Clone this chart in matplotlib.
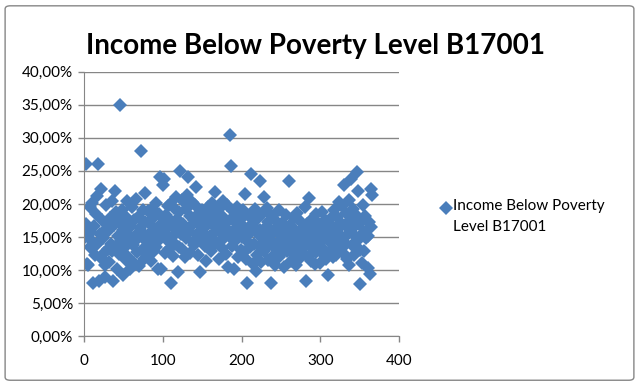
import numpy as np
import matplotlib
matplotlib.use("Agg")
import matplotlib.pyplot as plt
from matplotlib.ticker import FuncFormatter, MultipleLocator
from matplotlib.patches import FancyBboxPatch
from matplotlib.lines import Line2D

title = "Income Below Poverty Level B17001"
series_name = "Income Below Poverty\nLevel B17001"

# share of households below poverty level (%), one per row index
poverty_pct = [
    15.0, 26.0, 17.0, 10.9, 10.7, 16.2, 19.5, 13.5, 15.8, 20.1,
    14.2, 8.0, 16.6, 12.3, 18.4, 21.2, 13.9, 26.1, 8.3, 15.4,
    11.8, 22.3, 17.6, 14.8, 12.6, 10.7, 9.0, 19.8, 16.3, 13.1,
    15.9, 11.2, 17.9, 14.0, 12.8, 20.4, 8.4, 16.8, 21.9, 13.6,
    18.7, 10.1, 15.2, 12.4, 17.3, 34.9, 14.6, 19.1, 9.2, 16.0,
    13.3, 18.2, 11.5, 15.6, 20.5, 12.0, 17.0, 14.3, 10.2, 16.7,
    19.6, 13.8, 11.0, 17.5, 15.1, 20.8, 12.7, 14.9, 18.0, 10.6,
    16.4, 28.0, 13.0, 15.7, 19.0, 11.7, 17.2, 21.6, 14.4, 12.2,
    18.9, 15.5, 13.7, 16.9, 11.4, 19.3, 14.1, 17.8, 12.9, 15.3,
    20.2, 13.4, 16.1, 10.2, 18.5, 14.7, 24.0, 10.2, 17.1, 22.9,
    23.8, 15.8, 12.5, 18.3, 14.5, 19.7, 16.5, 13.2, 20.0, 8.0,
    17.4, 15.0, 12.1, 19.4, 16.2, 14.0, 21.0, 17.7, 9.7, 13.5,
    18.8, 25.0, 15.4, 20.6, 13.1, 17.0, 16.3, 11.9, 19.2, 14.8,
    21.4, 24.0, 15.9, 18.1, 12.6, 16.6, 20.3, 14.2, 17.6, 13.8,
    19.9, 22.6, 15.3, 17.3, 12.3, 18.6, 9.7, 16.0, 14.4, 19.0,
    15.6, 18.4, 13.6, 17.9, 11.3, 16.8, 19.5, 14.6, 18.2, 15.1,
    12.8, 17.2, 20.1, 15.5, 13.9, 21.8, 16.4, 18.7, 14.1, 17.5,
    11.6, 19.3, 15.7, 16.9, 13.3, 18.0, 20.4, 14.9, 17.1, 12.4,
    16.2, 19.8, 10.5, 15.2, 30.4, 17.7, 25.8, 13.7, 18.9, 16.0,
    10.2, 17.4, 14.5, 19.6, 15.8, 12.0, 18.3, 16.6, 13.0, 17.9,
    15.0, 19.1, 12.7, 21.5, 16.3, 11.7, 8.0, 14.3, 18.1, 15.4,
    13.4, 24.6, 17.0, 10.9, 16.7, 14.0, 19.2, 9.9, 15.6, 12.3,
    17.8, 13.6, 16.1, 23.4, 11.2, 18.5, 14.7, 21.0, 12.9, 16.4,
    15.1, 19.4, 11.5, 17.2, 13.8, 16.0, 8.1, 14.6, 18.2, 12.1,
    15.9, 10.8, 17.6, 13.2, 16.5, 14.1, 19.0, 11.9, 15.3, 13.5,
    17.1, 12.5, 15.7, 10.4, 16.2, 14.4, 18.3, 12.8, 15.0, 23.4,
    13.9, 16.8, 11.3, 15.5, 14.2, 17.9, 12.2, 16.1, 10.7, 14.8,
    18.6, 13.1, 15.6, 11.8, 17.3, 14.5, 12.6, 16.4, 15.2, 19.5,
    13.7, 8.3, 16.9, 14.0, 12.0, 20.9, 15.8, 11.4, 17.7, 13.3,
    16.3, 14.9, 10.9, 18.4, 12.7, 15.4, 13.6, 17.0, 11.1, 16.6,
    14.3, 18.8, 12.4, 15.9, 13.0, 17.5, 11.6, 16.1, 14.7, 9.2,
    15.3, 12.9, 17.8, 14.1, 16.7, 11.9, 19.1, 13.4, 15.6, 12.2,
    18.0, 14.6, 16.2, 20.3, 13.2, 17.1, 15.0, 19.7, 12.6, 22.8,
    16.8, 14.0, 18.6, 11.7, 15.5, 20.6, 10.7, 17.4, 23.8, 13.8,
    16.4, 19.2, 12.3, 15.1, 18.3, 14.4, 24.9, 21.9, 16.9, 13.0,
    7.8, 17.6, 11.0, 19.8, 15.7, 12.8, 18.1, 14.8, 16.0, 10.3,
    15.2, 17.2, 9.4, 22.2, 16.5, 21.3,
]
row_index = np.arange(1, len(poverty_pct) + 1)

blue = "#4A7EBB"
grid_grey = "#868686"

plt.rcParams["font.family"] = ["Lato", "DejaVu Sans"]

fig = plt.figure(figsize=(6.39, 3.88), dpi=100)
ax = fig.add_axes([0.1315, 0.134, 0.493, 0.681])

# outer chart border like excel
border = FancyBboxPatch((0.008, 0.02), 0.984, 0.965, boxstyle="round,pad=0,rounding_size=0.008",
                        transform=fig.transFigure, fill=False, edgecolor=grid_grey, linewidth=1.0)
fig.patches.append(border)

ax.plot(row_index, np.array(poverty_pct) / 100, linestyle="none", marker="D",
        markersize=7, color=blue, markeredgewidth=0)

ax.set_xlim(0, 400)
ax.set_ylim(0, 0.40)
ax.xaxis.set_major_locator(MultipleLocator(100))
ax.yaxis.set_major_locator(MultipleLocator(0.05))
ax.yaxis.set_major_formatter(FuncFormatter(lambda v, p: f"{v * 100:.2f}%".replace(".", ",")))

ax.grid(axis="y", color=grid_grey, linewidth=1.0)
ax.set_axisbelow(True)
for side in ["top", "right"]:
    ax.spines[side].set_visible(False)
for side in ["left", "bottom"]:
    ax.spines[side].set_color(grid_grey)
ax.tick_params(axis="both", colors=grid_grey, labelcolor="black", labelsize=11, length=4, width=1)
ax.tick_params(axis="x", pad=9)
ax.tick_params(axis="y", pad=4)

fig.text(0.493, 0.882, title, ha="center", va="center", fontsize=20, fontweight="bold")

# legend entry, excel puts the marker on the first text line
leg_y = 1 - 208 / 388
fig.add_artist(Line2D([446 / 639], [leg_y], transform=fig.transFigure, linestyle="none",
                      marker="D", markersize=7, color=blue, markeredgewidth=0))
fig.text(453 / 639, leg_y + 0.022, series_name, ha="left", va="top", fontsize=11,
         linespacing=1.6)

fig.savefig("out.png", dpi=100)
